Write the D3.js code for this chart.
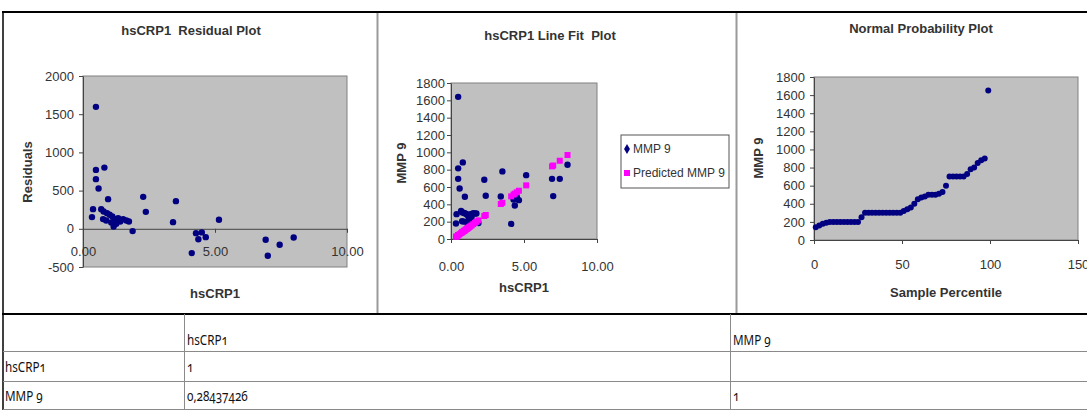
<!DOCTYPE html>
<html>
<head>
<meta charset="utf-8">
<script src="https://cdn.jsdelivr.net/npm/d3@7"></script>
<style>
  body { margin: 0; background: #fff; }
  svg text { font-family: "Liberation Sans", Arial, sans-serif; white-space: pre; }
  .tbl { font-family: "Noto Sans", sans-serif; font-size: 15px; font-variant-numeric: oldstyle-nums; fill: #111; }
</style>
</head>
<body>
<svg id="chart" width="1087" height="410"></svg>
<script>
const hscrp = [0.34, 0.38, 0.49, 0.49, 0.49, 0.59, 0.69, 0.76, 0.78, 0.81, 0.88, 0.91, 0.95, 1.01,
  1.07, 1.11, 1.16, 1.20, 1.26, 1.33, 1.41, 1.52, 1.64, 1.74, 1.88, 2.28, 2.38, 3.41, 3.52, 4.12,
  4.28, 4.37, 4.50, 4.65, 5.15, 6.92, 7.00, 7.45, 7.98];
const mmp9 = [178, 287, 1640, 815, 694, 583, 325, 204, 305, 884, 201, 300, 488, 291,
  198, 281, 157, 258, 204, 286, 253, 298, 295, 294, 185, 683, 499, 491, 780, 174,
  455, 387, 492, 448, 737, 694, 495, 694, 856];
const predicted = [25, 30, 44, 44, 44, 56, 68, 77, 79, 83, 92, 95, 100, 108,
  115, 120, 126, 131, 139, 147, 157, 171, 186, 198, 215, 265, 277, 404, 418, 492,
  512, 523, 539, 557, 619, 838, 848, 903, 969];
const residuals = [153, 257, 1596, 771, 650, 527, 257, 127, 226, 801, 109, 205, 388, 183,
  83, 161, 31, 127, 65, 139, 96, 127, 109, 96, -30, 418, 222, 87, 362, -318,
  -57, -136, -47, -109, 118, -144, -353, -209, -113];

// normal probability plot
const percentile = [1, 3, 5, 7, 9, 11, 13, 15, 17, 19, 21, 23, 25, 27, 29, 31, 33, 35, 37, 39,
  41, 43, 45, 47, 49, 51, 53, 55, 57, 59, 61, 63, 65, 67, 69, 71, 73, 75, 77, 79,
  81, 83, 85, 87, 89, 91, 93, 95, 97, 99];
const mmpSorted = [140, 160, 180, 190, 200, 200, 200, 200, 200, 200, 200, 200, 200, 250, 300, 300, 300, 300, 300, 300,
  300, 300, 300, 300, 300, 320, 340, 360, 400, 450, 470, 480, 500, 500, 500, 510, 530, 600, 700, 700,
  700, 700, 700, 730, 780, 800, 850, 880, 900, 1650];

const residTicks = [-500, 0, 500, 1000, 1500, 2000];
const crpTicks = [0, 5, 10];
const mmpTicks = [0, 200, 400, 600, 800, 1000, 1200, 1400, 1600, 1800];
const pctTicks = [0, 50, 100, 150];

const legendLabels = ["MMP 9", "Predicted MMP 9"];
const tableHeader = ["", "hsCRP1", "MMP 9"];
const tableRows = [["hsCRP1", "1", ""], ["MMP 9", "0,28437426", "1"]];

const navy = "#000080", pink = "#ff00ff", plotFill = "#c0c0c0", ink = "#333";
const svg = d3.select("#chart");

function styleAxis(g) {
  g.attr("font-family", null).attr("font-size", null);
  g.selectAll("path, line").attr("stroke", "#444");
  g.selectAll("text").attr("fill", ink).style("font-size", "13px");
}

function label(x, y, txt, bold, rotate) {
  svg.append("text")
    .attr("transform", `translate(${x},${y})` + (rotate ? " rotate(-90)" : ""))
    .attr("text-anchor", "middle")
    .attr("dominant-baseline", "central")
    .attr("fill", ink)
    .style("font-size", "13px")
    .style("font-weight", bold ? "bold" : "normal")
    .text(txt);
}

function plotArea(x, y) {
  svg.append("rect")
    .attr("x", x.range()[0]).attr("y", y.range()[1])
    .attr("width", x.range()[1] - x.range()[0])
    .attr("height", y.range()[0] - y.range()[1])
    .attr("fill", plotFill).attr("stroke", "#808080");
}

// ---- panel 1: residual plot
const x1 = d3.scaleLinear([0, 10], [83, 347]);
const y1 = d3.scaleLinear([-500, 2000], [267, 76]);
plotArea(x1, y1);
svg.append("g").attr("transform", `translate(${x1(0)},0)`)
  .call(d3.axisLeft(y1).tickValues(residTicks).tickFormat(d => String(d)).tickSize(4).tickPadding(5).tickSizeOuter(0))
  .call(styleAxis);
svg.append("g").attr("transform", `translate(0,${y1(0)})`)
  .call(d3.axisBottom(x1).tickValues(crpTicks).tickFormat(d3.format(".2f")).tickSize(4).tickPadding(14).tickSizeOuter(0))
  .call(styleAxis);
svg.append("g").selectAll("circle").data(hscrp).join("circle")
  .attr("cx", d => x1(d)).attr("cy", (d, i) => y1(residuals[i]))
  .attr("r", 3.2).attr("fill", navy);
label(191, 30, "hsCRP1  Residual Plot", true);
label(215, 293, "hsCRP1", true);
label(27, 172, "Residuals", true, true);

// ---- panel 2: line fit plot
const x2 = d3.scaleLinear([0, 10], [451, 597]);
const y2 = d3.scaleLinear([0, 1800], [239, 83]);
plotArea(x2, y2);
svg.append("g").attr("transform", `translate(${x2(0)},0)`)
  .call(d3.axisLeft(y2).tickValues(mmpTicks).tickFormat(d => String(d)).tickSize(4).tickPadding(2).tickSizeOuter(0))
  .call(styleAxis);
svg.append("g").attr("transform", `translate(0,${y2(0)})`)
  .call(d3.axisBottom(x2).tickValues(crpTicks).tickFormat(d3.format(".2f")).tickSize(4).tickPadding(19).tickSizeOuter(0))
  .call(styleAxis);
svg.append("g").selectAll("circle").data(hscrp).join("circle")
  .attr("cx", d => x2(d)).attr("cy", (d, i) => y2(mmp9[i]))
  .attr("r", 3.2).attr("fill", navy);
svg.append("g").selectAll("rect").data(hscrp).join("rect")
  .attr("x", d => x2(d) - 3).attr("y", (d, i) => y2(predicted[i]) - 3)
  .attr("width", 6).attr("height", 6).attr("fill", pink);
label(550, 35, "hsCRP1 Line Fit  Plot", true);
label(524, 287, "hsCRP1", true);
label(401, 163, "MMP 9", true, true);

const legend = svg.append("g").attr("transform", "translate(621,135)");
legend.append("rect").attr("width", 108).attr("height", 53).attr("fill", "#fff").attr("stroke", "#555");
legendLabels.forEach((t, i) => {
  const ly = 14 + i * 24;
  if (i === 0) {
    legend.append("path").attr("d", d3.symbol(d3.symbolDiamond, 30)())
      .attr("transform", `translate(6,${ly})`).attr("fill", navy);
  } else {
    legend.append("rect").attr("x", 3).attr("y", ly - 3).attr("width", 6).attr("height", 6).attr("fill", pink);
  }
  legend.append("text").attr("x", 12).attr("y", ly).attr("dominant-baseline", "central")
    .attr("fill", ink).style("font-size", "12px").text(t);
});

// ---- panel 3: normal probability plot
const x3 = d3.scaleLinear([0, 150], [814, 1078]);
const y3 = d3.scaleLinear([0, 1800], [240, 77]);
plotArea(x3, y3);
svg.append("g").attr("transform", `translate(${x3(0)},0)`)
  .call(d3.axisLeft(y3).tickValues(mmpTicks).tickFormat(d => String(d)).tickSize(4).tickPadding(5).tickSizeOuter(0))
  .call(styleAxis);
svg.append("g").attr("transform", `translate(0,${y3(0)})`)
  .call(d3.axisBottom(x3).tickValues(pctTicks).tickFormat(d => String(d)).tickSize(4).tickPadding(16).tickSizeOuter(0))
  .call(styleAxis);
svg.append("g").selectAll("circle").data(percentile).join("circle")
  .attr("cx", d => x3(d)).attr("cy", (d, i) => y3(mmpSorted[i]))
  .attr("r", 3).attr("fill", navy);
label(921, 28, "Normal Probability Plot", true);
label(946, 292, "Sample Percentile", true);
label(758, 158, "MMP 9", true, true);

// ---- frame and table
function rule(xa, ya, xb, yb, color, w) {
  svg.append("line").attr("x1", xa).attr("y1", ya).attr("x2", xb).attr("y2", yb)
    .attr("stroke", color).attr("stroke-width", w);
}
rule(377.5, 12, 377.5, 314, "#9a9a9a", 2);
rule(736.5, 12, 736.5, 314, "#9a9a9a", 2);
rule(2, 12, 1087, 12, "#000", 2);
rule(3, 12, 3, 410, "#000", 1.5);
rule(2, 314, 1087, 314, "#000", 2);
rule(3, 351.5, 1087, 351.5, "#8a8a8a", 1);
rule(3, 381.5, 1087, 381.5, "#8a8a8a", 1);
rule(3, 409.5, 1087, 409.5, "#8a8a8a", 1);
rule(184.5, 314, 184.5, 410, "#8a8a8a", 1);
rule(730.5, 314, 730.5, 410, "#8a8a8a", 1);

const colX = [5, 187, 733];
const rowY = [339, 366, 395];
[tableHeader, ...tableRows].forEach((row, r) => {
  row.forEach((cell, c) => {
    if (!cell) return;
    svg.append("g").attr("transform", `translate(${colX[c]},${rowY[r]})`)
      .append("text").attr("class", "tbl").attr("transform", "scale(0.78,1)")
      .attr("dominant-baseline", "central").text(cell);
  });
});
</script>
</body>
</html>
